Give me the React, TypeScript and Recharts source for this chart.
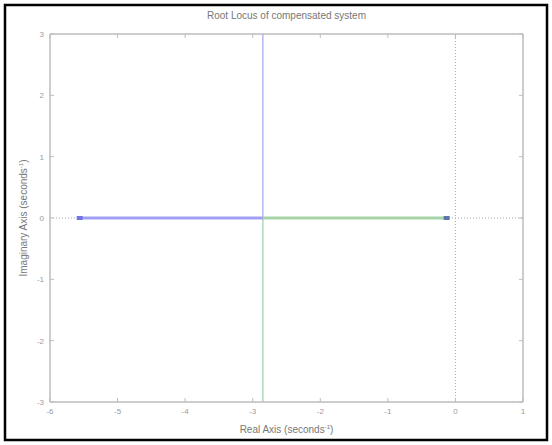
import React from "react";
import {
  ComposedChart,
  Line,
  Scatter,
  XAxis,
  YAxis,
  ReferenceLine,
} from "recharts";

// ---- data ----
const realTicks = [-6, -5, -4, -3, -2, -1, 0, 1];
const imagTicks = [-3, -2, -1, 0, 1, 2, 3];
const realDomain = [-6, 1];
const imagDomain = [-3, 3];

const blueRealBranch = [
  { x: -5.56, y: 0 },
  { x: -2.85, y: 0 },
];
const greenRealBranch = [
  { x: -2.85, y: 0 },
  { x: -0.13, y: 0 },
];
const blueImagBranch = [
  { x: -2.85, y: 0 },
  { x: -2.85, y: 3 },
];
const greenImagBranch = [
  { x: -2.85, y: 0 },
  { x: -2.85, y: -3 },
];
const startPoles = [{ x: -5.56, y: 0 }];
const endPoles = [{ x: -0.13, y: 0 }];

const titleText = "Root Locus of compensated system";
const xLabelText = "Real Axis (seconds";
const yLabelText = "Imaginary Axis (seconds";

const FONT = "'Liberation Sans', Arial, sans-serif";
const AXIS_COLOR = "#bdbdbd";
const TICK_TEXT = "#9a9a9a";
const LABEL_TEXT = "#777777";

const squareShape = (fill: string) => (props: any) => (
  <rect x={props.cx - 3} y={props.cy - 2} width={6} height={4} fill={fill} />
);

export default function App() {
  const tickStyle = { fontSize: 8, fill: TICK_TEXT, fontFamily: FONT };
  const axisLine = { stroke: AXIS_COLOR, strokeWidth: 1.5 };
  return (
    <div
      style={{
        position: "absolute",
        left: 0,
        top: 0,
        width: 552,
        height: 445,
        background: "#ffffff",
      }}
    >
      <ComposedChart
        width={552}
        height={445}
        margin={{ top: 24, right: 19, bottom: 13, left: 20 }}
      >
        <XAxis
          xAxisId={0}
          type="number"
          dataKey="x"
          domain={realDomain}
          ticks={realTicks}
          allowDataOverflow
          orientation="bottom"
          height={30}
          tickSize={-4}
          tickMargin={10}
          stroke={AXIS_COLOR}
          axisLine={axisLine}
          tick={tickStyle}
          interval={0}
        />
        <XAxis
          xAxisId="top"
          type="number"
          dataKey="x"
          domain={realDomain}
          ticks={realTicks}
          allowDataOverflow
          orientation="top"
          height={10}
          tickSize={-4}
          tickFormatter={() => ""}
          stroke={AXIS_COLOR}
          axisLine={axisLine}
          interval={0}
        />
        <YAxis
          yAxisId={0}
          type="number"
          dataKey="y"
          domain={imagDomain}
          ticks={imagTicks}
          allowDataOverflow
          orientation="left"
          width={30}
          tickSize={-4}
          tickMargin={10}
          stroke={AXIS_COLOR}
          axisLine={axisLine}
          tick={tickStyle}
          interval={0}
        />
        <YAxis
          yAxisId="right"
          type="number"
          dataKey="y"
          domain={imagDomain}
          ticks={imagTicks}
          allowDataOverflow
          orientation="right"
          width={10}
          tickSize={-4}
          tickFormatter={() => ""}
          stroke={AXIS_COLOR}
          axisLine={axisLine}
          interval={0}
        />
        <ReferenceLine
          y={0}
          stroke="#ababab"
          strokeDasharray="1 2"
          strokeWidth={1}
        />
        <ReferenceLine
          x={0}
          stroke="#ababab"
          strokeDasharray="1 2"
          strokeWidth={1}
        />
        <Line
          data={blueImagBranch}
          dataKey="y"
          stroke="#b4b6f4"
          strokeWidth={1.5}
          dot={false}
          isAnimationActive={false}
        />
        <Line
          data={greenImagBranch}
          dataKey="y"
          stroke="#b0d8b6"
          strokeWidth={1.5}
          dot={false}
          isAnimationActive={false}
        />
        <Line
          data={blueRealBranch}
          dataKey="y"
          stroke="#a0a0f2"
          strokeWidth={3}
          dot={false}
          isAnimationActive={false}
        />
        <Line
          data={greenRealBranch}
          dataKey="y"
          stroke="#a6d4a7"
          strokeWidth={3}
          dot={false}
          isAnimationActive={false}
        />
        <Scatter
          data={startPoles}
          dataKey="y"
          shape={squareShape("#7474e6")}
          isAnimationActive={false}
        />
        <Scatter
          data={endPoles}
          dataKey="y"
          shape={squareShape("#5f76aa")}
          isAnimationActive={false}
        />
      </ComposedChart>
      <svg
        width={552}
        height={445}
        style={{ position: "absolute", left: 0, top: 0, pointerEvents: "none" }}
      >
        <rect
          x={5}
          y={5}
          width={542}
          height={435}
          fill="none"
          stroke="#000"
          strokeWidth={2.5}
        />
        <text
          x={286.5}
          y={19}
          textAnchor="middle"
          fontSize={10}
          fontFamily={FONT}
          fill={LABEL_TEXT}
        >
          {titleText}
        </text>
        <text
          x={286.5}
          y={433}
          textAnchor="middle"
          fontSize={10}
          fontFamily={FONT}
          fill={LABEL_TEXT}
        >
          {xLabelText}
          <tspan dy={-4} fontSize={6}>
            -1
          </tspan>
          <tspan dy={4}>)</tspan>
        </text>
        <text
          x={0}
          y={0}
          transform="translate(27,218) rotate(-90)"
          textAnchor="middle"
          fontSize={10}
          fontFamily={FONT}
          fill={LABEL_TEXT}
        >
          {yLabelText}
          <tspan dy={-4} fontSize={6}>
            -1
          </tspan>
          <tspan dy={4}>)</tspan>
        </text>
      </svg>
    </div>
  );
}
